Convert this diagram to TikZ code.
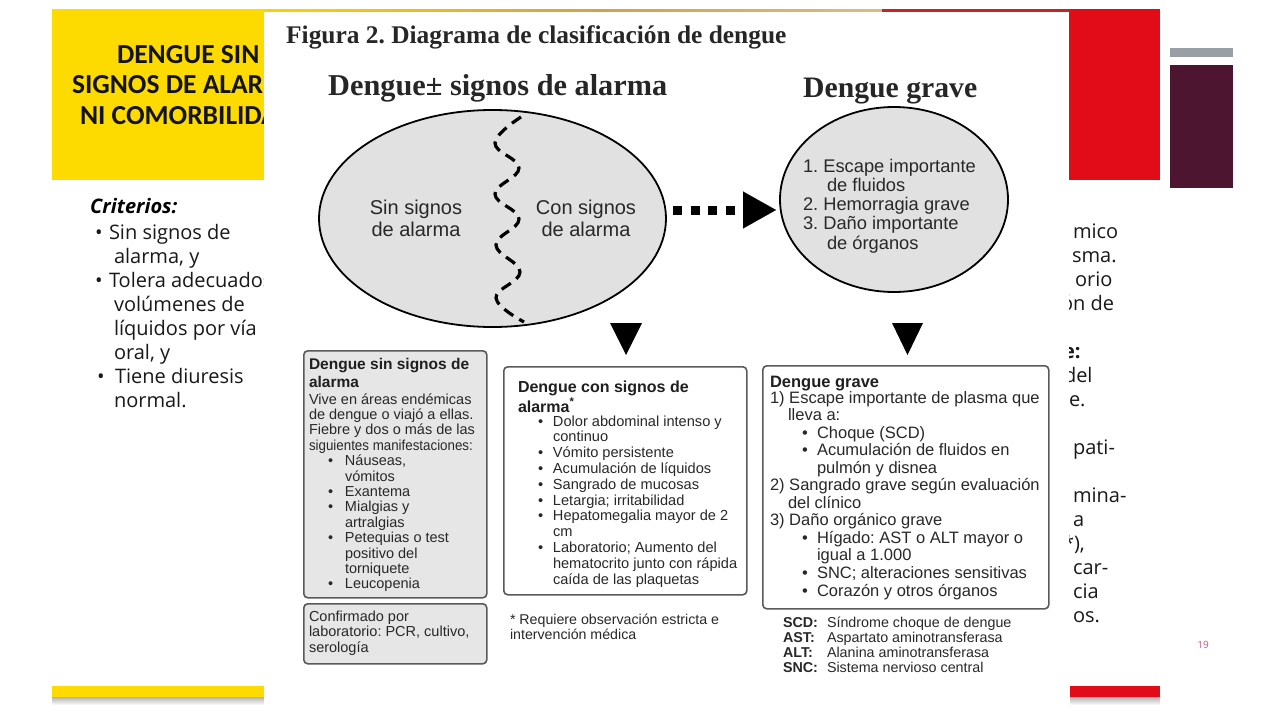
\documentclass[tikz,border=0pt]{standalone}
\usepackage{fontspec}
\setmainfont{Liberation Sans}
\newfontfamily\slidefont{Open Sans}
\newfontfamily\headfont{Carlito}
\newfontfamily\figserif{Liberation Serif}
\usetikzlibrary{arrows.meta,shapes.geometric}
\frenchspacing
\definecolor{slyellow}{RGB}{254,219,0}
\definecolor{slred}{RGB}{226,12,24}
\definecolor{slmaroon}{RGB}{78,21,48}
\definecolor{slgray}{RGB}{152,160,166}
\definecolor{striporange}{RGB}{214,160,70}
\definecolor{striptan}{RGB}{216,190,130}
\definecolor{stripred}{RGB}{196,36,36}
\definecolor{figtext}{RGB}{40,40,40}
\definecolor{ellfill}{RGB}{225,225,225}
\definecolor{boxfill}{RGB}{230,230,230}
\definecolor{boxline}{RGB}{90,90,90}
\definecolor{pagenum}{RGB}{190,90,140}
\newcommand\myFs[2]{\fontsize{#1}{#2}\selectfont}
\newcommand\myFL{\rule{0pt}{1em}}
\newcommand\myBul[3]{\hspace*{#1}\makebox[#2][l]{•}#3}
\tikzset{
  txt/.style={inner sep=0pt, outer sep=0pt, anchor=north west, align=left, text=figtext},
  slidetxt/.style={inner sep=0pt, outer sep=0pt, anchor=north west, align=left, text=black!90},
  ellst/.style={ellipse, draw=black, line width=1.8pt, fill=ellfill, inner sep=0pt},
  graybox/.style={draw=boxline, line width=1.6pt, rounded corners=4pt, fill=boxfill, inner sep=0pt, anchor=north west},
  whitebox/.style={draw=boxline, line width=1.6pt, rounded corners=4pt, fill=white, inner sep=0pt, anchor=north west},
  wavy/.style={line width=3.2pt, dash pattern=on 11pt off 7pt, black},
  dotconn/.style={line width=9pt, dash pattern=on 9pt off 8.7pt, black,
     -{Triangle[length=33pt,width=37pt,line width=0.1pt]}},
  downtip/.style={fill=black}
}
\begin{document}
\begin{tikzpicture}[x=1pt,y=-1pt]
\useasboundingbox (0,0) rectangle (1280,720);
\fill[white] (0,0) rectangle (1280,720);

% ---------- slide behind the figure ----------
\fill[slyellow] (52,9) rectangle (600,180);
\fill[slred] (600,9) rectangle (1160,180);
\shade[left color=slyellow!90!orange, right color=striporange] (264,9) rectangle (600,13);
\shade[left color=striporange, right color=striptan] (600,9) rectangle (882,13);
\fill[stripred] (882,9) rectangle (1070,13);
\fill[slgray] (1170,48) rectangle (1233,57);
\fill[slmaroon] (1170,65) rectangle (1233,188);

\fill[slyellow] (52,686) rectangle (264,697);
\shade[top color=black!30, bottom color=white] (52,697) rectangle (264,705);
\fill[slred] (1070,686) rectangle (1160,697);
\shade[top color=black!30, bottom color=white] (1070,697) rectangle (1160,705);

\node[slidetxt, font=\headfont\bfseries\myFs{27.5}{30.5}, text=black!92] (head) at (72,35.5)
  {\myFL\hspace*{45pt}DENGUE SIN\\ SIGNOS DE ALARMA\\ \hspace*{8pt}NI COMORBILIDADES};

\node[inner sep=0pt, anchor=base west, font=\slidefont\bfseries\itshape\myFs{20}{24}] (crit) at (90,213) {Criterios:};
\node[slidetxt, font=\slidefont\myFs{20}{24}] (critlist) at (90,219)
  {\myFL\myBul{5pt}{14pt}{Sin signos de}\\
   \hspace*{24pt}alarma, y\\
   \myBul{5pt}{14pt}{Tolera adecuados}\\
   \hspace*{24pt}volúmenes de\\
   \hspace*{24pt}líquidos por vía\\
   \hspace*{24pt}oral, y\\
   \myBul{7pt}{18pt}{Tiene diuresis}\\
   \hspace*{24pt}normal.};

\node[slidetxt, font=\slidefont\myFs{20}{24}] (rightfrag) at (1060,218)
  {\myFL\hspace*{13pt}mico\\
   \hspace*{12pt}sma.\\
   \hspace*{15pt}orio\\
   \hspace*{1pt}ón de\\
   \mbox{}\\
   \hspace*{3pt}\textbf{e:}\\
   \hspace*{4pt}del\\
   \hspace*{9pt}e.\\
   \mbox{}\\
   \hspace*{13pt}pati-\\
   \mbox{}\\
   \hspace*{13pt}mina-\\
   \hspace*{13pt}a\\
   \hspace*{3pt}*),\\
   \hspace*{13pt}car-\\
   \hspace*{13pt}cia\\
   \hspace*{13pt}os.};

\node[inner sep=0pt, font=\slidefont\myFs{10}{12}, text=pagenum] (pnum) at (1203,645) {19};

% ---------- the figure ----------
\fill[white] (264,12) rectangle (1069,705);

\node[inner sep=0pt, anchor=base west, font=\figserif\bfseries\myFs{25.4}{28}, text=black!85] (ftitle) at (286,43)
  {Figura 2. Diagrama de clasificación de dengue};
\node[inner sep=0pt, anchor=base west, font=\figserif\bfseries\myFs{30.3}{32}, text=black!85] (ltitle) at (328,95)
  {Dengue± signos de alarma};
\node[inner sep=0pt, anchor=base west, font=\figserif\bfseries\myFs{29.7}{32}, text=black!85] (rtitle) at (803,97)
  {Dengue grave};

\node[ellst, minimum width=347pt, minimum height=217pt] (L) at (492.5,218.5) {};
\node[ellst, minimum width=228pt, minimum height=185pt] (R) at (894,199.5) {};

\draw[wavy] plot[smooth, tension=0.7] coordinates
  {(521,117) (495,143) (519,168) (495,194) (519,219) (496,245) (520,272) (496,298) (524,322)};

\node[inner sep=0pt, anchor=north, align=center, text=figtext, font=\myFs{20}{22.5}] (Ltxt1) at (416,194)
  {\myFL Sin signos\\ de alarma};
\node[inner sep=0pt, anchor=north, align=center, text=figtext, font=\myFs{20}{22.5}] (Ltxt2) at (586,194)
  {\myFL Con signos\\ de alarma};

\node[txt, font=\myFs{18.3}{19.3}] (Rtxt) at (803,153.7)
  {\myFL 1. Escape importante\\
   \hspace*{24pt}de fluidos\\
   2. Hemorragia grave\\
   3. Daño importante\\
   \hspace*{24pt}de órganos};

\coordinate (a1) at (673,210);
\coordinate (a2) at (776,210);
\draw[dotconn] (a1) -- (a2);

\fill[downtip] (610,323) -- (642,323) -- (626,355) -- cycle;
\fill[downtip] (892,323) -- (923,323) -- (907.5,355) -- cycle;

% boxes
\node[graybox, minimum width=183pt, minimum height=247pt] (B1) at (303,350) {};
\node[graybox, minimum width=183pt, minimum height=60pt] (B2) at (303,603) {};
\node[whitebox, minimum width=243pt, minimum height=228pt] (B3) at (503,366) {};
\node[whitebox, minimum width=286pt, minimum height=243pt] (B4) at (762,365) {};

\node[txt, font=\bfseries\myFs{15.5}{18}, text=black!88] (B1title) at (309,353.5)
  {\myFL Dengue sin signos de\\ alarma};
\node[txt, font=\myFs{14.5}{15.4}] (B1body) at (309,389.5)
  {\myFL Vive en áreas endémicas\\
   de dengue o viajó a ellas.\\
   Fiebre y dos o más de las\\
   \scalebox{0.92}[1]{siguientes manifestaciones:}\\
   \myBul{19pt}{17pt}{Náuseas,}\\
   \hspace*{36pt}vómitos\\
   \myBul{19pt}{17pt}{Exantema}\\
   \myBul{19pt}{17pt}{Mialgias y}\\
   \hspace*{36pt}artralgias\\
   \myBul{19pt}{17pt}{Petequias o test}\\
   \hspace*{36pt}positivo del\\
   \hspace*{36pt}torniquete\\
   \myBul{19pt}{17pt}{Leucopenia}};

\node[txt, font=\myFs{14.5}{15.5}] (B2body) at (309,606.5)
  {\myFL Confirmado por\\ laboratorio: PCR, cultivo,\\ serología};

\node[txt, font=\bfseries\myFs{16}{20}, text=black!88] (B3title) at (518,376)
  {\myFL Dengue con signos de\\ alarma\textsuperscript{*}};
\node[txt, font=\myFs{14.6}{15.8}] (B3body) at (518,411.4)
  {\myFL\myBul{20pt}{15pt}{Dolor abdominal intenso y}\\
   \hspace*{35pt}continuo\\
   \myBul{20pt}{15pt}{Vómito persistente}\\
   \myBul{20pt}{15pt}{Acumulación de líquidos}\\
   \myBul{20pt}{15pt}{Sangrado de mucosas}\\
   \myBul{20pt}{15pt}{Letargia; irritabilidad}\\
   \myBul{20pt}{15pt}{Hepatomegalia mayor de 2}\\
   \hspace*{35pt}cm\\
   \myBul{20pt}{15pt}{Laboratorio; Aumento del}\\
   \hspace*{35pt}hematocrito junto con rápida\\
   \hspace*{35pt}caída de las plaquetas};

\node[txt, font=\myFs{14.2}{15}] (foot) at (510,609.8)
  {\myFL * Requiere observación estricta e\\ intervención médica};

\node[txt, font=\bfseries\myFs{16.5}{17.5}, text=black!88] (B4title) at (770,370.5)
  {\myFL Dengue grave};
\node[txt, font=\myFs{16.5}{17.55}] (B4body) at (770,386.5)
  {\myFL 1) Escape importante de plasma que\\
   \hspace*{18pt}lleva a:\\
   \myBul{32pt}{15pt}{Choque (SCD)}\\
   \myBul{32pt}{15pt}{Acumulación de fluidos en}\\
   \hspace*{47pt}pulmón y disnea\\
   2) Sangrado grave según evaluación\\
   \hspace*{18pt}del clínico\\
   3) Daño orgánico grave\\
   \myBul{32pt}{15pt}{Hígado: AST o ALT mayor o}\\
   \hspace*{47pt}igual a 1.000\\
   \myBul{32pt}{15pt}{SNC; alteraciones sensitivas}\\
   \myBul{32pt}{15pt}{Corazón y otros órganos}};

\node[txt, font=\myFs{14.3}{15}] (abbr) at (783,612.7)
  {\myFL\makebox[44pt][l]{\bfseries SCD:}Síndrome choque de dengue\\
   \makebox[44pt][l]{\bfseries AST:}Aspartato aminotransferasa\\
   \makebox[44pt][l]{\bfseries ALT:}Alanina aminotransferasa\\
   \makebox[44pt][l]{\bfseries SNC:}Sistema nervioso central};
\end{tikzpicture}
\end{document}
